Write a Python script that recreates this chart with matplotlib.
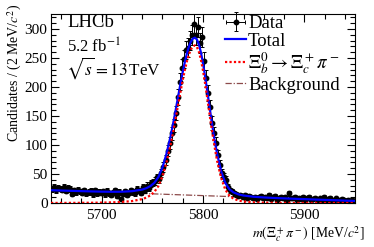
import numpy as np
import matplotlib
matplotlib.use("Agg")
import matplotlib.pyplot as plt
from matplotlib.ticker import MultipleLocator

plt.rcParams['font.family'] = ['Liberation Serif', 'DejaVu Serif']
plt.rcParams['mathtext.fontset'] = 'stix'

# ---------------- data ----------------
bin_lo, bin_width = 5650, 2
counts = [
    24, 27, 22, 26, 25, 23, 27, 21, 26, 24,
    16, 22, 19, 23, 20, 18, 22, 17, 19, 21,
    15, 22, 17, 19, 18, 20, 15, 21, 17, 14,
    18, 22, 12, 19, 7, 16, 20, 14, 18, 22,
    19, 17, 25, 21, 18, 28, 22, 30, 26, 34,
    35, 38, 44, 41, 52, 62, 75, 90, 104, 120,
    134, 155, 183, 209, 233, 248, 264, 268, 280, 290,
    309, 290, 303, 276, 286, 245, 215, 190, 165, 138,
    120, 103, 82, 66, 52, 45, 40, 28, 22, 20,
    17, 15, 12, 14, 11, 13, 9, 12, 10, 8,
    11, 7, 10, 12, 8, 11, 9, 13, 7, 10,
    12, 6, 9, 11, 8, 10, 6, 17, 9, 8,
    11, 5, 9, 7, 10, 6, 8, 11, 5, 7,
    9, 4, 8, 6, 10, 5, 7, 9, 4, 6,
    8, 5, 3, 7, 6, 4, 5, 3, 6, 4,
]

curve_m = [5650, 5660, 5670, 5680, 5690, 5700, 5710, 5720, 5730, 5740,
           5744, 5748, 5752, 5756, 5760, 5764, 5768,
           5770, 5772, 5774, 5776, 5778, 5780, 5782, 5784, 5786, 5788, 5790,
           5792, 5794, 5796, 5798, 5800, 5802, 5804, 5806, 5808, 5810, 5812, 5814,
           5818, 5822, 5826, 5830, 5835, 5840, 5850,
           5860, 5870, 5880, 5890, 5900, 5910, 5920, 5930, 5940, 5950]
total_fit = [22.1, 21.5, 21.0, 20.5, 20.0, 19.6, 19.4, 19.5, 20.4, 23.2,
             25.5, 29.1, 34.9, 44.8, 61.4, 85.1, 115.1,
             132.3, 150.7, 169.7, 188.9, 207.9, 226.0, 242.7, 257.2, 269.2, 278.1, 283.5,
             285.2, 282.1, 273.3, 259.3, 241.0, 219.3, 195.7, 171.3, 147.0, 123.9, 102.8, 84.0,
             54.2, 34.5, 23.8, 18.4, 14.9, 12.9, 10.8,
             9.6, 8.7, 8.0, 7.3, 6.7, 6.0, 5.4, 4.8, 4.1, 3.5]
signal_fit = [0.12, 0.16, 0.22, 0.31, 0.45, 0.69, 1.09, 1.83, 3.33, 6.73,
              9.26, 13.1, 19.2, 29.3, 46.2, 70.1, 100.4,
              117.7, 136.2, 155.3, 174.7, 193.8, 212.0, 228.8, 243.5, 255.6, 264.6, 270.1,
              272.0, 269.0, 260.3, 246.4, 228.2, 206.7, 183.2, 158.9, 134.7, 111.8, 90.8, 72.1,
              42.6, 23.1, 12.7, 7.55, 4.28, 2.61, 1.13,
              0.56, 0.31, 0.19, 0.12, 0.08, 0.05, 0.04, 0.03, 0.02, 0.02]
bkg_m = [5650, 5950]
bkg_fit = [22.0, 3.5]

counts = np.array(counts, dtype=float)
centers = bin_lo + bin_width * (np.arange(len(counts)) + 0.5)

# ---------------- figure ----------------
fig = plt.figure(figsize=(3.74, 2.47), dpi=100)
ax = fig.add_axes([0.1364, 0.1781, 0.8128, 0.7652])

ax.plot(bkg_m, bkg_fit, color='#8c4a4a', lw=0.9, ls=(0, (5, 1.5, 1, 1.5)),
        label='Background', zorder=2)
ax.errorbar(centers, counts, yerr=np.sqrt(counts), xerr=bin_width / 2,
            fmt='o', color='black', ms=3.2, elinewidth=0.7, capsize=1.2,
            capthick=0.7, label='Data', zorder=3)
ax.plot(curve_m, total_fit, color='#0000ff', lw=1.6, label='Total', zorder=4)
ax.plot(curve_m, signal_fit, color='#ff0000', lw=1.6, ls=(0, (1, 1)),
        label=r'$\Xi_b^0 \rightarrow \Xi_c^+\pi^-$', zorder=5)

ax.set_xlim(5650, 5950)
ax.set_ylim(0, 326)
ax.xaxis.set_major_locator(MultipleLocator(100))
ax.xaxis.set_minor_locator(MultipleLocator(20))
ax.yaxis.set_major_locator(MultipleLocator(50))
ax.yaxis.set_minor_locator(MultipleLocator(10))
ax.tick_params(which='both', direction='in', top=True, right=True,
               labelsize=11, width=0.8)
ax.tick_params(which='major', length=6)
ax.tick_params(which='minor', length=3.5)
ax.tick_params(axis='x', pad=4)
ax.tick_params(axis='y', pad=2.5)
for s in ax.spines.values():
    s.set_linewidth(0.8)

ax.set_ylabel(r'Candidates / (2 MeV/$c^2$)', fontsize=10, loc='top')
ax.yaxis.set_label_coords(-0.089, 1.053)
ax.set_xlabel(r'$m(\Xi_c^+\pi^-)$ [MeV/$c^2$]', fontsize=9.8, loc='right')
ax.xaxis.set_label_coords(1.033, -0.115)

ax.text(0.053, 0.931, 'LHCb', transform=ax.transAxes, fontsize=13.5,
        va='baseline', ha='left')
ax.text(0.053, 0.797, r'5.2 fb$^{-1}$', transform=ax.transAxes, fontsize=12,
        va='baseline', ha='left')
ax.text(0.05, 0.677, r'$\sqrt{s} = 13\,$TeV', transform=ax.transAxes,
        fontsize=12.3, va='baseline', ha='left')

handles, labels = ax.get_legend_handles_labels()
order = ['Data', 'Total', r'$\Xi_b^0 \rightarrow \Xi_c^+\pi^-$', 'Background']
hmap = dict(zip(labels, handles))
ax.legend([hmap[k] for k in order], order, loc='upper left',
          bbox_to_anchor=(0.572, 0.994), frameon=False, fontsize=13.5,
          handlelength=1.15, handletextpad=0.08, labelspacing=0.02,
          borderpad=0.0, borderaxespad=0.0)

fig.savefig('out.png', dpi=100)
